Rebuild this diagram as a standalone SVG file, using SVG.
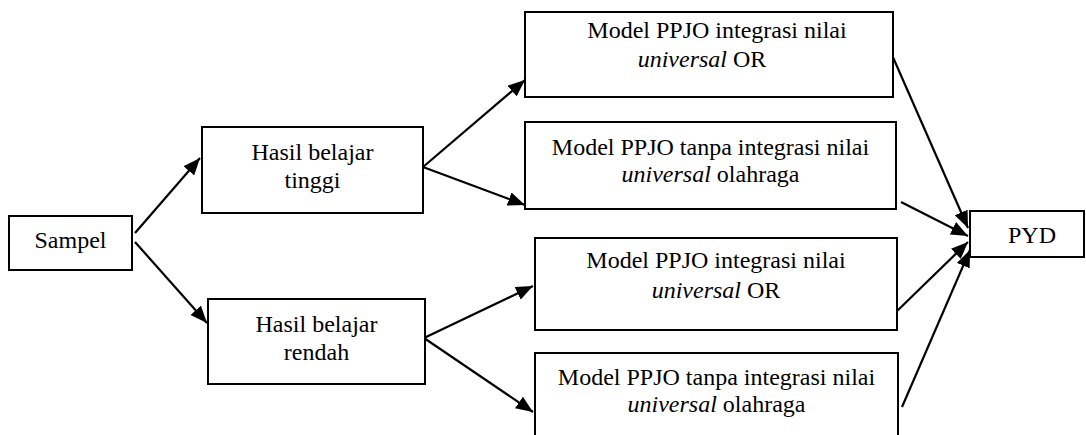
<svg xmlns="http://www.w3.org/2000/svg" width="1086" height="435" viewBox="0 0 1086 435">
  <style>
    .box { fill: #ffffff; stroke: #000000; stroke-width: 2; }
    .lbl { font-family: "Liberation Serif", "Times New Roman", Times, serif; font-size: 24px; fill: #000000; text-anchor: middle; }
    .it { font-style: italic; }
    .edge { fill: none; stroke: #000000; stroke-width: 2.2; marker-end: url(#arrow); }
  </style>
  <defs>
    <marker id="arrow" markerUnits="userSpaceOnUse" markerWidth="17" markerHeight="14" refX="17" refY="7" orient="auto">
      <path d="M0,0 L17,7 L0,14 z" fill="#000000"/>
    </marker>
  </defs>
  <rect width="1086" height="435" fill="#ffffff"/>

  <!-- connectors -->
  <g id="connectors">
    <line class="edge" x1="135" y1="233" x2="200" y2="158"/>
    <line class="edge" x1="135" y1="242" x2="207" y2="323"/>
    <line class="edge" x1="423" y1="167" x2="525" y2="80"/>
    <line class="edge" x1="423" y1="167" x2="525" y2="205"/>
    <line class="edge" x1="424" y1="338" x2="533" y2="286"/>
    <line class="edge" x1="424" y1="338" x2="533" y2="412"/>
    <line class="edge" x1="892" y1="55" x2="968" y2="228"/>
    <line class="edge" x1="901" y1="202" x2="968" y2="236"/>
    <line class="edge" x1="895" y1="313" x2="968" y2="242"/>
    <line class="edge" x1="902" y1="407" x2="970" y2="250"/>
  </g>

  <!-- nodes -->
  <g id="sampel">
    <rect class="box" x="9" y="216" width="123" height="54"/>
    <text class="lbl" x="70.5" y="248">Sampel</text>
  </g>
  <g id="hasil-tinggi">
    <rect class="box" x="202" y="127" width="221" height="86"/>
    <text class="lbl" x="312.5" y="160">Hasil belajar</text>
    <text class="lbl" x="312.5" y="188">tinggi</text>
  </g>
  <g id="hasil-rendah">
    <rect class="box" x="208" y="299" width="217" height="85"/>
    <text class="lbl" x="316.5" y="332">Hasil belajar</text>
    <text class="lbl" x="316.5" y="360">rendah</text>
  </g>
  <g id="tinggi-integrasi">
    <rect class="box" x="525" y="12" width="368" height="85"/>
    <text class="lbl" x="717" y="38">Model PPJO integrasi nilai</text>
    <text class="lbl" x="702" y="67"><tspan class="it">universal</tspan> OR</text>
  </g>
  <g id="tinggi-tanpa">
    <rect class="box" x="525" y="122" width="371" height="87"/>
    <text class="lbl" x="710.5" y="155">Model PPJO tanpa integrasi nilai</text>
    <text class="lbl" x="710.5" y="182"><tspan class="it">universal</tspan> olahraga</text>
  </g>
  <g id="rendah-integrasi">
    <rect class="box" x="535" y="238" width="362" height="92"/>
    <text class="lbl" x="716" y="268">Model PPJO integrasi nilai</text>
    <text class="lbl" x="716" y="298"><tspan class="it">universal</tspan> OR</text>
  </g>
  <g id="rendah-tanpa">
    <rect class="box" x="535" y="353" width="363" height="90"/>
    <text class="lbl" x="716.5" y="385">Model PPJO tanpa integrasi nilai</text>
    <text class="lbl" x="716.5" y="412"><tspan class="it">universal</tspan> olahraga</text>
  </g>
  <g id="pyd">
    <rect class="box" x="970" y="211" width="114" height="46"/>
    <text class="lbl" x="1032" y="243">PYD</text>
  </g>
</svg>
